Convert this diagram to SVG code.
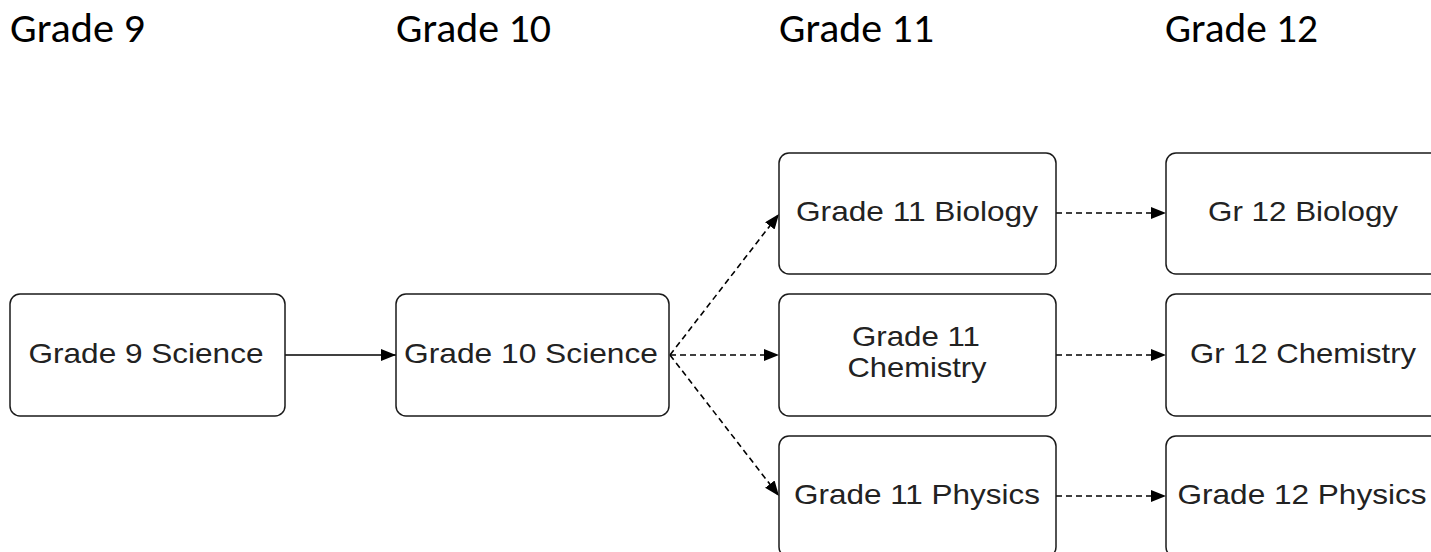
<svg xmlns="http://www.w3.org/2000/svg" width="1431" height="552" viewBox="0 0 1431 552">
<style>
.bg{fill:#ffffff}
.hd{font-family:Carlito,"Open Sans","Liberation Sans",sans-serif;font-size:41px;fill:#000}
.box{fill:#ffffff;stroke:#1a1a1a;stroke-width:1.5}
.lbl{font-family:"Liberation Sans",Arial,sans-serif;font-size:28px;fill:#222;text-anchor:middle}
.edge{fill:none;stroke:#000;stroke-width:1.6}
.dash{stroke-dasharray:6 4}
</style>
<defs>
<marker id="arr" markerUnits="userSpaceOnUse" markerWidth="17" markerHeight="13" refX="15" refY="6" orient="auto">
<path d="M0,0 L15,6 L0,12 z" fill="#000"/>
</marker>
</defs>
<rect class="bg" x="0" y="0" width="1431" height="552"/>
<g id="headings">
<text class="hd" x="10" y="42" textLength="135" lengthAdjust="spacingAndGlyphs">Grade 9</text>
<text class="hd" x="396" y="42" textLength="155" lengthAdjust="spacingAndGlyphs">Grade 10</text>
<text class="hd" x="779" y="42" textLength="155" lengthAdjust="spacingAndGlyphs">Grade 11</text>
<text class="hd" x="1165" y="42" textLength="153" lengthAdjust="spacingAndGlyphs">Grade 12</text>
</g>
<g id="connectors">
<path class="edge" d="M285,355 L396,355" marker-end="url(#arr)"/>
<path class="edge dash" d="M670,355 L779,214" marker-end="url(#arr)"/>
<path class="edge dash" d="M670,355 L779,355" marker-end="url(#arr)"/>
<path class="edge dash" d="M670,355 L779,496" marker-end="url(#arr)"/>
<path class="edge dash" d="M1056,213 L1166,213" marker-end="url(#arr)"/>
<path class="edge dash" d="M1056,355 L1166,355" marker-end="url(#arr)"/>
<path class="edge dash" d="M1056,496 L1166,496" marker-end="url(#arr)"/>
</g>
<g id="g9sci">
<rect class="box" x="10" y="294" width="275" height="122" rx="10"/>
<text class="lbl" x="146" y="363" textLength="235" lengthAdjust="spacingAndGlyphs">Grade 9 Science</text>
</g>
<g id="g10sci">
<rect class="box" x="396" y="294" width="273" height="122" rx="10"/>
<text class="lbl" x="531" y="363" textLength="254" lengthAdjust="spacingAndGlyphs">Grade 10 Science</text>
</g>
<g id="g11bio">
<rect class="box" x="779" y="153" width="277" height="121" rx="10"/>
<text class="lbl" x="917" y="221" textLength="242" lengthAdjust="spacingAndGlyphs">Grade 11 Biology</text>
</g>
<g id="g11chem">
<rect class="box" x="779" y="294" width="277" height="122" rx="10"/>
<text class="lbl" x="916" y="346" textLength="128" lengthAdjust="spacingAndGlyphs">Grade 11</text>
<text class="lbl" x="917" y="377" textLength="139" lengthAdjust="spacingAndGlyphs">Chemistry</text>
</g>
<g id="g11phys">
<rect class="box" x="779" y="436" width="277" height="121" rx="10"/>
<text class="lbl" x="917" y="504" textLength="246" lengthAdjust="spacingAndGlyphs">Grade 11 Physics</text>
</g>
<g id="g12bio">
<rect class="box" x="1166" y="153" width="277" height="121" rx="10"/>
<text class="lbl" x="1303" y="221" textLength="190" lengthAdjust="spacingAndGlyphs">Gr 12 Biology</text>
</g>
<g id="g12chem">
<rect class="box" x="1166" y="294" width="277" height="122" rx="10"/>
<text class="lbl" x="1303" y="363" textLength="226" lengthAdjust="spacingAndGlyphs">Gr 12 Chemistry</text>
</g>
<g id="g12phys">
<rect class="box" x="1166" y="436" width="277" height="121" rx="10"/>
<text class="lbl" x="1302" y="504" textLength="249" lengthAdjust="spacingAndGlyphs">Grade 12 Physics</text>
</g>
</svg>
